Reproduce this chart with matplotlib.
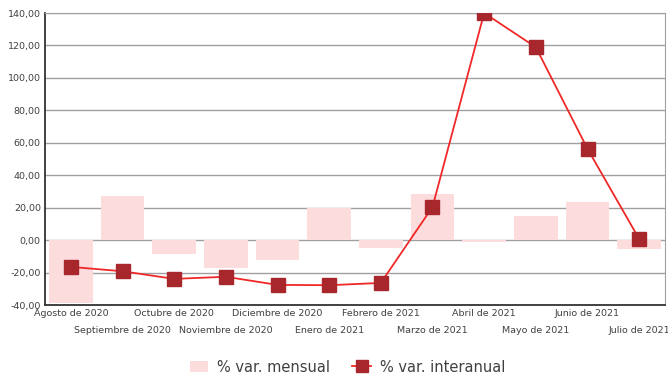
import numpy as np
import matplotlib.pyplot as plt
from matplotlib.ticker import FuncFormatter

meses = ['Agosto de 2020', 'Septiembre de 2020', 'Octubre de 2020',
         'Noviembre de 2020', 'Diciembre de 2020', 'Enero de 2021',
         'Febrero de 2021', 'Marzo de 2021', 'Abril de 2021',
         'Mayo de 2021', 'Junio de 2021', 'Julio de 2021']
var_mensual = [-38.5, 27.4, -8.5, -17.1, -12.4, 19.8, -5.0, 28.6, -1.3, 15.1, 23.7, -5.2]
var_interanual = [-16.5, -19.2, -23.9, -22.6, -27.6, -27.8, -26.4, 20.4, 140.0, 118.9, 56.3, 0.7]

fig = plt.figure(figsize=(6.68, 3.79), dpi=100)
ax = fig.add_axes([45 / 668, 1 - 305 / 379, 620 / 668, 292 / 379])

x = np.arange(len(meses))
barras = ax.bar(x, var_mensual, width=0.85, color='#fddcdd', zorder=2, label='% var. mensual')
linea, = ax.plot(x, var_interanual, color='#f02828', lw=1.3, marker='s', markersize=10,
                 markerfacecolor='#a8272c', markeredgecolor='#a8272c', zorder=3,
                 label='% var. interanual')

ax.set_xlim(-0.5, len(meses) - 0.5)
ax.set_ylim(-40, 140)
ax.set_yticks(np.arange(-40, 141, 20))
ax.yaxis.set_major_formatter(FuncFormatter(lambda v, p: f'{v:.2f}'.replace('.', ',')))
ax.grid(axis='y', color='#a0a0a0', lw=1, zorder=0)
ax.set_axisbelow(True)

# etiquetas escalonadas: pares arriba, impares abajo
ax.set_xticks(x[::2])
ax.set_xticklabels(meses[::2])
ax.set_xticks(x[1::2], minor=True)
ax.set_xticklabels(meses[1::2], minor=True)
ax.tick_params(axis='both', which='both', length=0, labelsize=6.8, colors='#404040')
ax.tick_params(axis='x', which='major', pad=3)
ax.tick_params(axis='x', which='minor', pad=15)
ax.tick_params(axis='y', pad=3)

for s in ['top', 'right']:
    ax.spines[s].set_color('#a0a0a0')
for s in ['left', 'bottom']:
    ax.spines[s].set_color('#333333')
    ax.spines[s].set_linewidth(1.3)

fig.legend([barras, linea], ['% var. mensual', '% var. interanual'],
           loc='center', bbox_to_anchor=(0.52, 1 - 367 / 379), ncol=2, frameon=False,
           fontsize=10.5, handlelength=1.3, handleheight=0.8, columnspacing=1.5,
           handletextpad=0.6, labelcolor='#404040', markerscale=0.85)

fig.savefig('out.png', dpi=100)
